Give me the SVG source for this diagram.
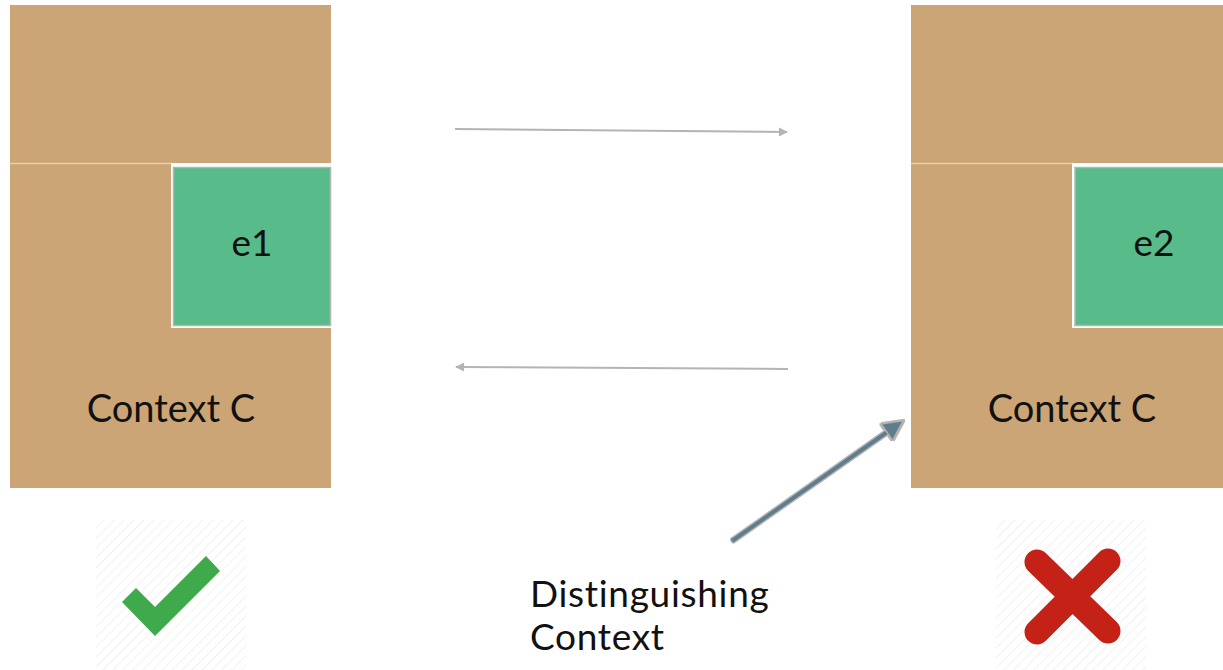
<svg xmlns="http://www.w3.org/2000/svg" width="1223" height="670" viewBox="0 0 1223 670">
  <style>
    .ctx { fill: #CCA576; }
    .seam { stroke: #E6CDAE; stroke-width: 1.5; }
    .elem { fill: #57BC8A; stroke: #B5B5B5; stroke-width: 1.5; }
    .gap { fill: #FFFFFF; }
    .lbl { font-family: "Lato", "Liberation Sans", sans-serif; font-weight: 400; fill: #111111; }
    .flow { stroke: #B4B4B4; stroke-width: 2; fill: none; }
    .pointer { stroke: #5E7D8A; stroke-width: 4; fill: none; }
  </style>
  <defs>
    <marker id="grayHead" viewBox="0 0 10 10" refX="9" refY="5" markerWidth="13" markerHeight="9" markerUnits="userSpaceOnUse" orient="auto">
      <path d="M0,0 L10,5 L0,10 Z" fill="#B4B4B4"/>
    </marker>
    <marker id="slateHead" viewBox="0 0 10 10" refX="8" refY="5" markerWidth="22" markerHeight="20" markerUnits="userSpaceOnUse" orient="auto">
      <path d="M0,0 L10,5 L0,10 Z" fill="#5E7D8A" stroke="#B0B0B0" stroke-width="0.8"/>
    </marker>
    <pattern id="hatch" width="7" height="7" patternUnits="userSpaceOnUse" patternTransform="rotate(45)">
      <rect width="7" height="7" fill="#FFFFFF"/>
      <line x1="0" y1="0" x2="0" y2="7" stroke="#F1F1F1" stroke-width="2"/>
    </pattern>
    <filter id="halo" x="-10%" y="-10%" width="120%" height="120%">
      <feMorphology in="SourceAlpha" operator="dilate" radius="1.2" result="d"/>
      <feFlood flood-color="#B8B8B8"/>
      <feComposite in2="d" operator="in" result="o"/>
      <feMerge><feMergeNode in="o"/><feMergeNode in="SourceGraphic"/></feMerge>
    </filter>
  </defs>

  <!-- left context with element e1 -->
  <g id="context-left">
    <rect class="ctx" x="10" y="5" width="321" height="483"/>
    <line class="seam" x1="10" y1="163.5" x2="172" y2="163.5"/>
    <rect class="gap" x="171" y="163" width="161" height="165"/>
    <rect class="elem" x="173.5" y="167.5" width="157" height="158"/>
    <text class="lbl" x="252" y="256" font-size="37" text-anchor="middle">e1</text>
    <text class="lbl" x="171" y="422" font-size="38" text-anchor="middle">Context C</text>
  </g>

  <!-- right context with element e2 -->
  <g id="context-right">
    <rect class="ctx" x="911" y="5" width="312" height="483"/>
    <line class="seam" x1="911" y1="163.5" x2="1073" y2="163.5"/>
    <rect class="gap" x="1072" y="163" width="151" height="165"/>
    <rect class="elem" x="1075" y="167.5" width="150" height="158"/>
    <text class="lbl" x="1154" y="256" font-size="37" text-anchor="middle">e2</text>
    <text class="lbl" x="1072" y="422" font-size="38" text-anchor="middle">Context C</text>
  </g>

  <!-- verdict badges -->
  <g id="badge-ok">
    <rect x="96" y="520" width="150" height="150" fill="url(#hatch)"/>
    <polygon points="122,602 136,588 155,607 206,556 220,571 155,636" fill="#3EAA4B"/>
  </g>
  <g id="badge-fail">
    <rect x="996" y="520" width="150" height="150" fill="url(#hatch)"/>
    <path d="M1037,562 L1108,631 M1108,561 L1037,632" stroke="#C42117" stroke-width="25" stroke-linecap="round"/>
  </g>

  <!-- caption -->
  <g id="caption">
    <text class="lbl" font-size="37" letter-spacing="0.7">
      <tspan x="530" y="607">Distinguishing</tspan>
      <tspan x="530" y="650">Context</tspan>
    </text>
  </g>

  <!-- connectors -->
  <g id="connectors">
    <line class="flow" x1="455" y1="129" x2="787" y2="132" marker-end="url(#grayHead)"/>
    <line class="flow" x1="788" y1="369" x2="456" y2="367" marker-end="url(#grayHead)"/>
    <g filter="url(#halo)">
      <line class="pointer" x1="732" y1="541" x2="900" y2="423" marker-end="url(#slateHead)"/>
    </g>
  </g>
</svg>
